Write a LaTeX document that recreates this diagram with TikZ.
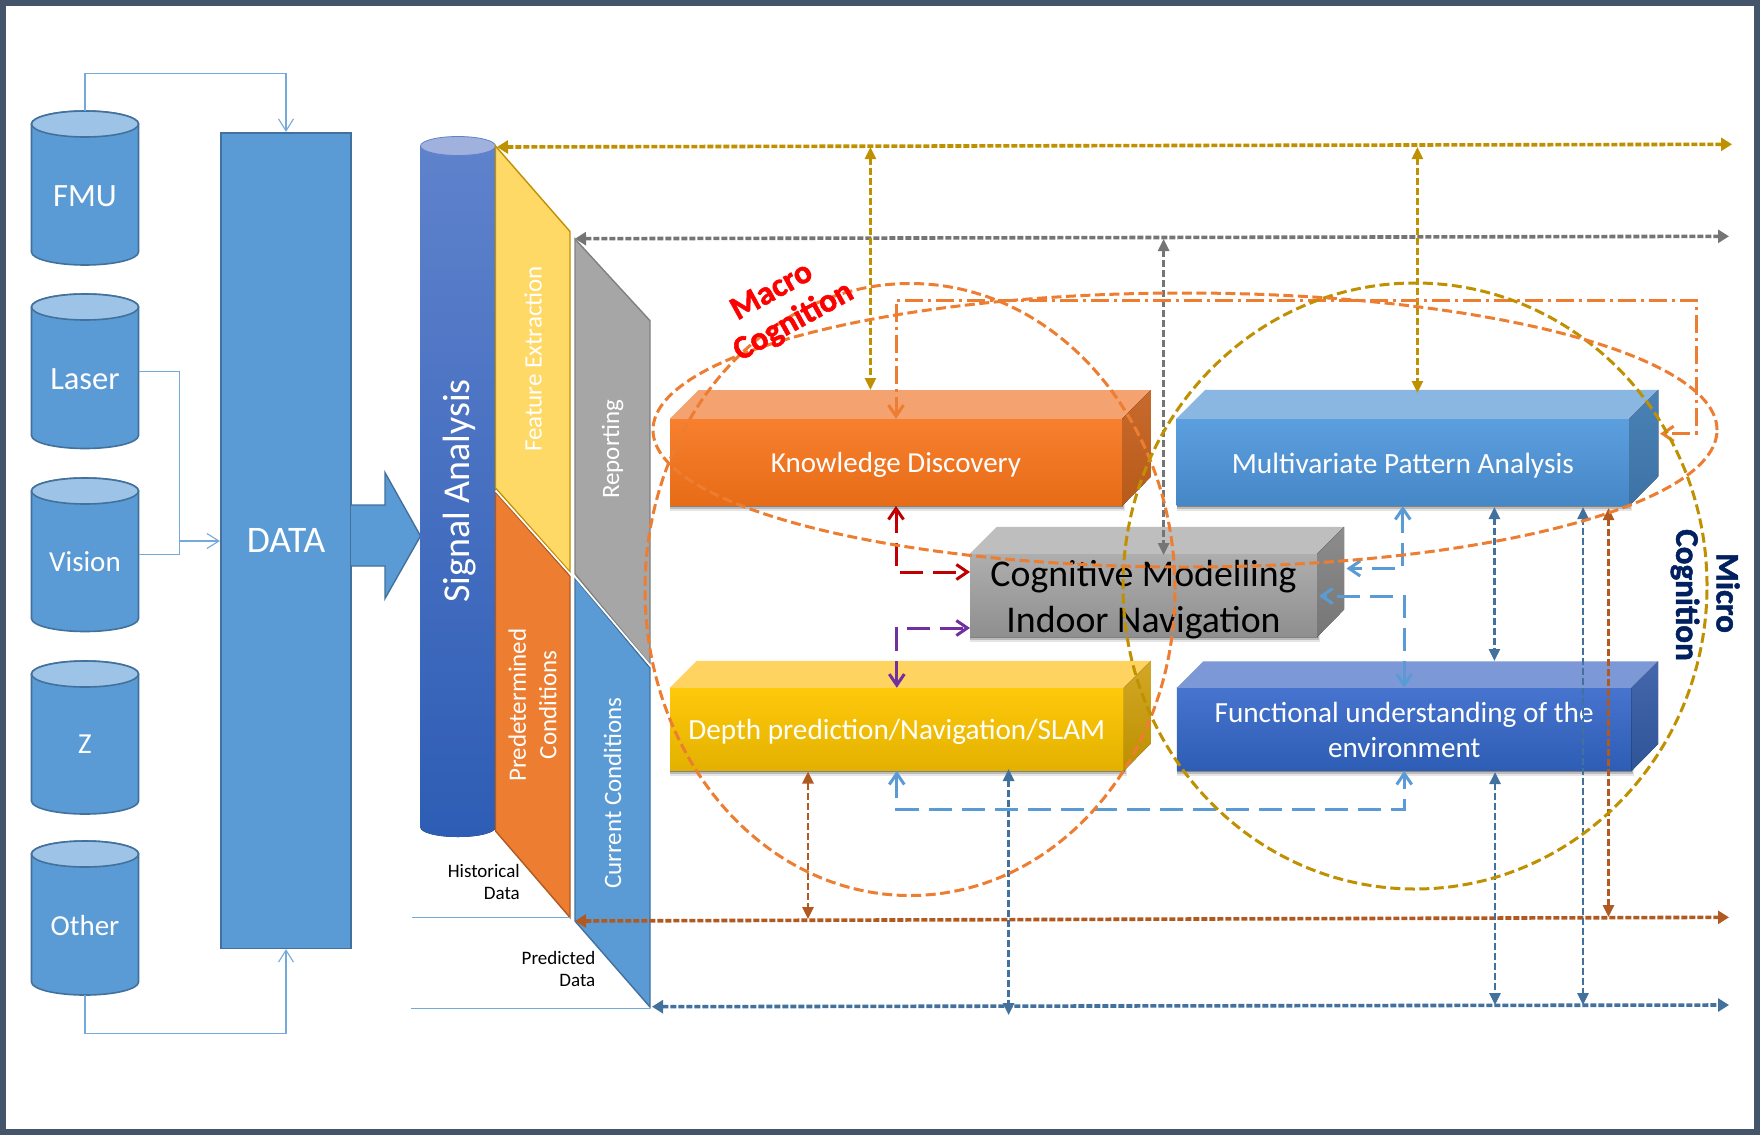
\documentclass[tikz,border=0pt]{standalone}
\usepackage{fontspec}
\setmainfont{Carlito}
\newfontfamily\heavy[BoldFeatures={FakeBold=1.6}]{Carlito}
\usetikzlibrary{arrows.meta,calc}
\definecolor{frame}{HTML}{44546A}
\definecolor{cylblue}{HTML}{5B9BD5}
\definecolor{cyledge}{HTML}{41719C}
\definecolor{cyltop}{HTML}{9DC3E6}
\definecolor{goldc}{HTML}{BF9000}
\definecolor{grayc}{HTML}{757575}
\definecolor{brownc}{HTML}{B05A22}
\definecolor{steelc}{HTML}{41719C}
\definecolor{orangec}{HTML}{ED7D31}
\definecolor{redc}{HTML}{C00000}
\definecolor{purplec}{HTML}{7030A0}
\definecolor{navyc}{HTML}{002060}
\definecolor{sigtop}{HTML}{5F82CC}
\definecolor{sigcap}{HTML}{A0B1DD}
\definecolor{planey}{HTML}{FFD966}
% box palettes
\definecolor{kdA}{HTML}{F77F2E}\definecolor{kdB}{HTML}{E76C17}\definecolor{kdT}{HTML}{F4A26F}\definecolor{kdR}{HTML}{C86A2E}\definecolor{kdS}{HTML}{B85A18}
\definecolor{mpA}{HTML}{5C9FDF}\definecolor{mpB}{HTML}{4687C6}\definecolor{mpT}{HTML}{8AB6E2}\definecolor{mpR}{HTML}{4A82B6}\definecolor{mpS}{HTML}{3D72A6}
\definecolor{cgA}{HTML}{AEAEAE}\definecolor{cgB}{HTML}{8F8F8F}\definecolor{cgT}{HTML}{BEBEBE}\definecolor{cgR}{HTML}{8C8C8C}\definecolor{cgS}{HTML}{767676}
\definecolor{dpA}{HTML}{FFC90B}\definecolor{dpB}{HTML}{E2B100}\definecolor{dpT}{HTML}{FFD35F}\definecolor{dpR}{HTML}{D2A726}\definecolor{dpS}{HTML}{BD9000}
\definecolor{fuA}{HTML}{4774CE}\definecolor{fuB}{HTML}{2E5DB5}\definecolor{fuT}{HTML}{7C98D6}\definecolor{fuR}{HTML}{4566AC}\definecolor{fuS}{HTML}{2F5597}
\newcommand{\fsz}[1]{\fontsize{#1}{#1}\selectfont}
\tikzset{
  x=1pt,y=-1pt,
  cylbody/.style={fill=cylblue,draw=cyledge,line width=1.6pt},
  cylcap/.style={fill=cyltop,draw=cyledge,line width=1.6pt},
  cylname/.style={text=white,font=\fsz{29}},
  shell/.style={inner sep=0pt,minimum width=#1,minimum height=154pt},
  facetext/.style={text=white,inner sep=0pt,align=center},
  plane/.style={line width=1.4pt},
  rottext/.style={text=white,rotate=90,align=center,inner sep=0pt},
  thinlink/.style={draw=cylblue!85!white,line width=1.1pt},
  opentip/.style={arrows={-Straight Barb[length=12pt,width=15pt]}},
  opentwo/.style={arrows={Straight Barb[length=11pt,width=15pt]-Straight Barb[length=11pt,width=15pt]}},
  rail/.style={line width=3.6pt,dash pattern=on 6pt off 2pt,arrows={Triangle[length=11pt,width=13pt]-Triangle[length=11pt,width=13pt]}},
  riser/.style={line width=2.6pt,dash pattern=on 7pt off 3pt,arrows={Triangle[length=12pt,width=11pt]-Triangle[length=12pt,width=11pt]}},
  longdash/.style={line width=3pt,dash pattern=on 23pt off 10pt},
  roundel/.style={line width=3pt,dash pattern=on 10pt off 4.5pt},
  smalllabel/.style={align=right,inner sep=0pt,font=\fontsize{19}{22}\selectfont,text=black},
  bigcap/.style={font=\heavy\bfseries\fsz{33},inner sep=0pt}
}
% cylinder: name, left x, top y, bottom y, label y, label
\newcommand{\drum}[6]{%
  \draw[cylbody] (#2,#3+13) -- (#2,#4-13) arc[start angle=180,end angle=360,x radius=53.5pt,y radius=13pt] -- (#2+107,#3+13) arc[start angle=0,end angle=180,x radius=53.5pt,y radius=13pt] -- cycle;
  \draw[cylcap] (#2+53.5,#3+13) ellipse [x radius=53.5pt,y radius=13pt];
  \node[shell=107pt,minimum height={(#4-#3)*1pt}] (#1) at (#2+53.5,{(#3+#4)/2}) {};
  \node[cylname] (#1label) at (#2+53.5,#5) {#6};
}
% 3-D block: name, cx, cy, w, h, depth, palette, label options, label
\newcommand{\solidblock}[9]{%
  \fill[black,opacity=.10] (#2-#4/2,#3-#5/2+4) rectangle (#2+#4/2+3,#3+#5/2+5.5);
  \fill[black,opacity=.18] (#2-#4/2,#3-#5/2+3) rectangle (#2+#4/2+2,#3+#5/2+3.5);
  \fill[black,opacity=.30] (#2-#4/2,#3-#5/2+2) rectangle (#2+#4/2+1,#3+#5/2+1.8);
  \node[inner sep=0pt,minimum width=#4pt,minimum height=#5pt,top color=#7A,bottom color=#7B] (#1) at (#2,#3) {};
  \fill[#7T] (#1.north west) -- ++(#6,-#6) -- ++(#4,0) -- (#1.north east) -- cycle;
  \fill[top color=#7R,bottom color=#7S] (#1.north east) -- ++(#6,-#6) -- ++(0,#5) -- (#1.south east) -- cycle;
  \node[facetext,#8] (#1label) at (#2,#3+3) {#9};
}
\begin{document}
\begin{tikzpicture}
\useasboundingbox (0,0) rectangle (1760,1135);
\fill[frame] (0,0) rectangle (1760,1135);
\fill[white] (5.5,5.7) rectangle (1754,1129);

% source drums
\drum{fmu}{31.5}{111}{265}{196}{\fsz{32.5}FMU}
\drum{laser}{31.5}{294}{448.5}{379}{\fsz{32.5}Laser}
\drum{vision}{31.5}{478}{631.5}{562}{Vision}
\drum{zed}{31.5}{661}{814}{744}{Z}
\drum{other}{31.5}{841}{995}{926}{Other}

% DATA
\node[fill=cylblue,draw=cyledge,line width=1.6pt,text=white,font=\fsz{37.5},minimum width=130.5pt,minimum height=815.6pt,inner sep=0pt] (data) at (286,540.5) {DATA};

% links into DATA
\coordinate (joinlv) at (179.5,541);
\draw[thinlink,opentip] (fmu.north) -- ++(0,-37.5) -| (data.north);
\draw[thinlink] (laser.east) -| (joinlv) |- (vision.east);
\draw[thinlink,opentip] (joinlv) -- (joinlv -| data.west);
\draw[thinlink,opentip] (other.south) -- ++(0,38) -| (data.south);

% block arrow
\fill[cylblue] (351,505) -- (385,505) -- (385,472.6) -- (420.5,536) -- (385,598.5) -- (385,566) -- (351,566) -- cycle;
\draw[cyledge,line width=1.4pt] (351,505) -- (385,505) -- (385,472.6) -- (420.5,536) -- (385,598.5) -- (385,566) -- (351,566);

% signal column
\fill[top color=sigtop,bottom color=fuB] (420.5,146) -- (420.5,827.5) arc[start angle=180,end angle=360,x radius=37.5pt,y radius=9.5pt] -- (495.5,146) -- cycle;
\fill[fill=sigcap,draw=sigtop,line width=.8pt] (458,146) ellipse [x radius=37.5pt,y radius=9.5pt];
\node[rottext,font=\fsz{38}] (signal) at (460,491) {Signal Analysis};

% slanted planes
\filldraw[plane,fill=planey,draw=goldc] (495.5,146) -- (570,231.5) -- (570,572) -- (495.5,488) -- cycle;
\filldraw[plane,fill=orangec,draw=brownc] (495.5,492) -- (570,576) -- (570,917.5) -- (495.5,831) -- cycle;
\filldraw[plane,fill=black!35,draw=black!50] (575,239) -- (650,320.7) -- (650,664.5) -- (575,574) -- cycle;
\filldraw[plane,fill=cylblue,draw=cyledge] (575,578) -- (650,668) -- (650,1007) -- (575,921) -- cycle;
\coordinate (sepA) at (495.5,490.5);
\coordinate (sepB) at (572,576);
\coordinate (sepC) at (573,574.5);
\coordinate (sepD) at (651,666.5);
\draw[white,line width=1.6pt] (sepA) -- (sepB);
\draw[white,line width=1.6pt] (sepC) -- (sepD);
\node[rottext,font=\fsz{25}] (feature) at (533,359) {Feature Extraction};
\node[rottext,font=\fsz{25}] (reporting) at (612.5,449) {Reporting};
\node[rottext,font=\fontsize{25}{30.5}\selectfont] (predet) at (532.5,705) {Predetermined\\Conditions};
\node[rottext,font=\fsz{25}] (current) at (612.5,793) {Current Conditions};

% data bands
\coordinate (histL) at (412,917.5);
\coordinate (histR) at (570,917.5);
\coordinate (predL) at (411,1008.5);
\coordinate (predR) at (650,1008.5);
\draw[thinlink,line width=.9pt] (histL) -- (histR);
\draw[thinlink,line width=.9pt] (predL) -- (predR);
\node[smalllabel,anchor=east] (hist) at (520,881.5) {Historical\\Data};
\node[smalllabel,anchor=east] (pred) at (595.5,969) {Predicted\\Data};

% blocks
\solidblock{kd}{896}{462.3}{452}{86.7}{28.7}{kd}{font=\fsz{29}}{Knowledge Discovery}
\solidblock{mpa}{1402.8}{462.3}{452.5}{86.7}{29}{mp}{font=\fsz{29.4}}{Multivariate Pattern Analysis}
\solidblock{cog}{1143.5}{595.3}{347}{82.7}{27}{cg}{text=black,yshift=-1pt,font=\fontsize{37.8}{46}\selectfont}{Cognitive Modelling\\Indoor Navigation}
\solidblock{depth}{896.8}{729.3}{453.6}{82.7}{27}{dp}{font=\fsz{29.2}}{Depth prediction/Navigation/SLAM}
\solidblock{func}{1404.2}{729.3}{454.5}{82.7}{26.5}{fu}{yshift=2pt,font=\fontsize{29.2}{35}\selectfont}{Functional understanding of the\\environment}

% named free ends
\coordinate (goldL) at (497,147);
\coordinate (goldR) at (1732,144.3);
\coordinate (grayL) at (575,238.7);
\coordinate (grayR) at (1729,236.3);
\coordinate (brownL) at (575,921);
\coordinate (brownR) at (1729,917.3);
\coordinate (steelL) at (652,1006.7);
\coordinate (steelR) at (1729,1005);
\coordinate (g1a) at (870.4,147);
\coordinate (g1b) at (870.4,390);
\coordinate (g2a) at (1417.4,147);
\coordinate (g2b) at (1417.4,393);
\coordinate (gya) at (1163.6,239);
\coordinate (gyb) at (1163.6,555);
\coordinate (bra) at (808,771.5);
\coordinate (brb) at (808,919);
\coordinate (sta) at (1008.6,769);
\coordinate (stb) at (1008.6,1015);
\coordinate (stc) at (1495,772);
\coordinate (std) at (1495,1005);
\coordinate (ste) at (1583,507);
\coordinate (stf) at (1583,1005);
\coordinate (stg) at (1494.4,507);
\coordinate (sth) at (1494.4,661);
\coordinate (bu1) at (1608.5,508);
\coordinate (bu2) at (1608.5,917);
\coordinate (cogA) at (1346.5,568.5);
\coordinate (cogB) at (1319,596);
\coordinate (cogR) at (970,572);
\coordinate (cogP) at (970,628);
\coordinate (lowY) at (897,809);
\coordinate (dashTR) at (1696,300);
\coordinate (dashBR) at (1696,433.7);
\coordinate (dashE) at (1660,433.7);

% rails
\draw[rail,goldc] (goldL) -- (goldR);
\draw[rail,grayc] (grayL) -- (grayR);
\draw[rail,brownc] (brownL) -- (brownR);
\draw[rail,steelc] (steelL) -- (steelR);

% risers
\draw[riser,goldc] (g1a) -- (g1b);
\draw[riser,goldc] (g2a) -- (g2b);
\draw[riser,grayc] (gya) -- (gyb);
\draw[riser,brownc] (bra) -- (brb);
\draw[riser,steelc] (sta) -- (stb);
\draw[riser,steelc] (stc) -- (std);
\draw[riser,steelc] (ste) -- (stf);
\draw[riser,steelc] (stg) -- (sth);
\draw[riser,brownc] (bu1) -- (bu2);

% block-to-block links
\draw[longdash,redc,opentwo] (kd.south) |- (cogR);
\draw[longdash,purplec,opentwo] (depth.north) |- (cogP);
\draw[longdash,cylblue,opentwo] (mpa.south) |- (cogA);
\draw[longdash,cylblue,opentwo] (func.north) |- (cogB);
\draw[longdash,cylblue,opentwo] (depth.south) |- (lowY) -| (func.south);
\draw[orangec,line width=3pt,dash pattern=on 18pt off 5pt on 3pt off 5pt,opentwo] (kd.north) |- (dashTR) -- (dashBR) -- (dashE);

% roundels
\draw[roundel,orangec] (910,589.5) ellipse [x radius=265pt,y radius=306pt];
\draw[roundel,goldc] (1415,586) ellipse [x radius=292pt,y radius=303pt];
\draw[roundel,orangec] (1185,430) ellipse [x radius=532pt,y radius=137pt];

% captions
\node[bigcap,text=red,rotate=29] (macro) at (771,290) {Macro};
\node[bigcap,text=red,rotate=29] (macrob) at (793.6,321.7) {Cognition};
\node[bigcap,text=navyc,rotate=-90] (micro) at (1728,593) {Micro};
\node[bigcap,text=navyc,rotate=-90] (microb) at (1685,595) {Cognition};
\end{tikzpicture}
\end{document}
